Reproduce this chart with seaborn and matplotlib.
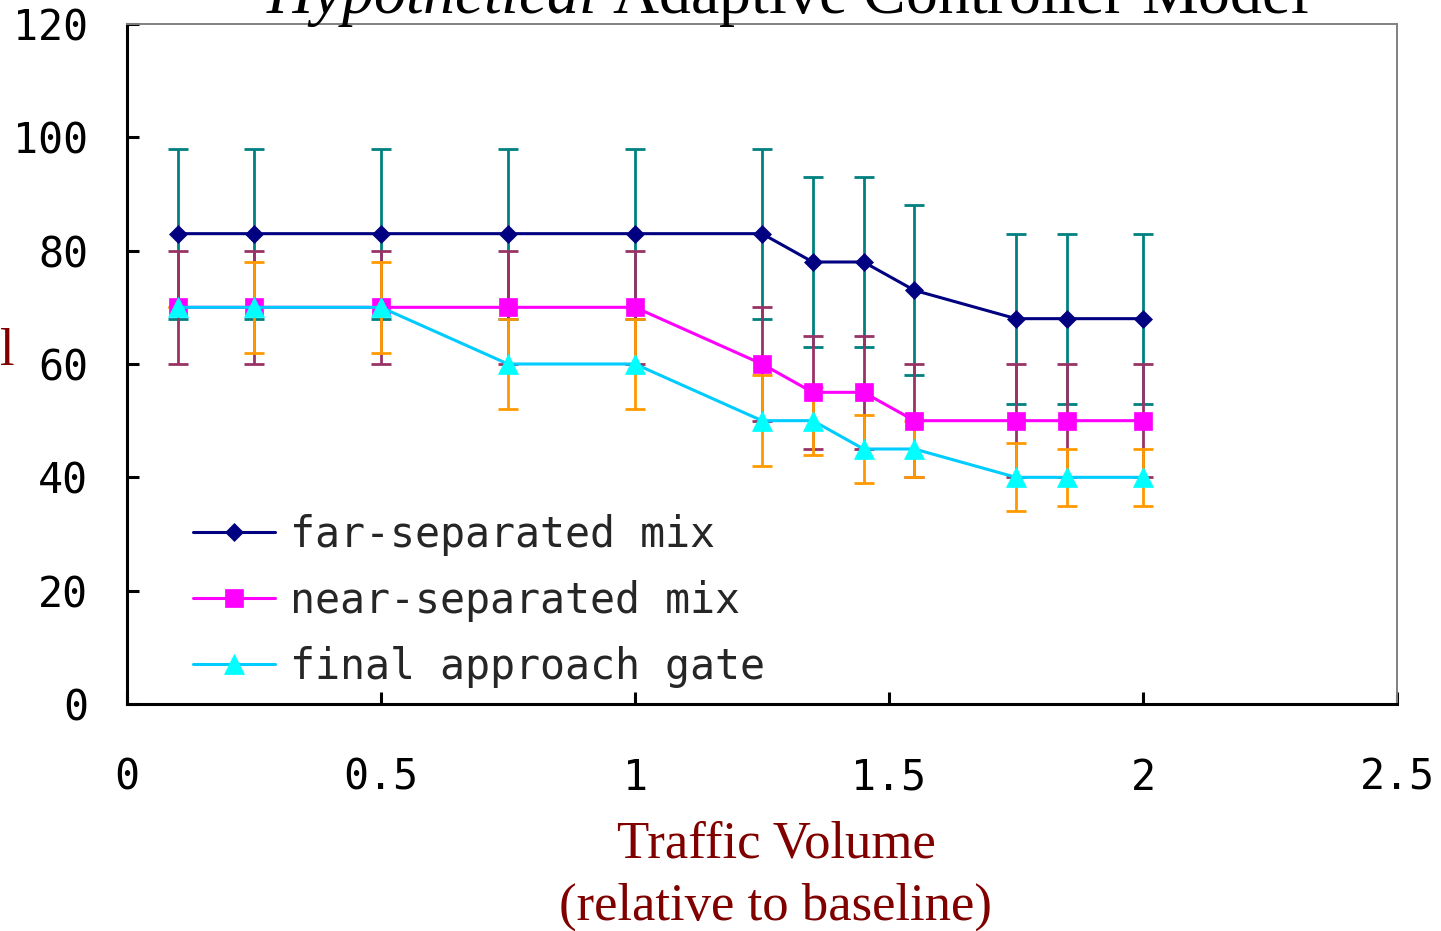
import matplotlib
matplotlib.use("Agg")
import matplotlib.pyplot as plt
import seaborn as sns
import pandas as pd
import numpy as np

# ---- data ----
traffic = [0.1, 0.25, 0.5, 0.75, 1.0, 1.25, 1.35, 1.45, 1.55, 1.75, 1.85, 2.0]
far_sep = [83, 83, 83, 83, 83, 83, 78, 78, 73, 68, 68, 68]
far_err = [15, 15, 15, 15, 15, 15, 15, 15, 15, 15, 15, 15]
near_sep = [70, 70, 70, 70, 70, 60, 55, 55, 50, 50, 50, 50]
near_err = [10, 10, 10, 10, 10, 10, 10, 10, 10, 10, 10, 10]
final_gate = [70, 70, 70, 60, 60, 50, 50, 45, 45, 40, 40, 40]
final_err = [0, 8, 8, 8, 8, 8, 6, 6, 5, 6, 5, 5]
series_names = ["far-separated mix", "near-separated mix", "final approach gate"]
x_ticks = [0, 0.5, 1, 1.5, 2, 2.5]
x_tick_labels = ["0", "0.5", "1", "1.5", "2", "2.5"]
y_ticks = [0, 20, 40, 60, 80, 100, 120]

sns.set_style("ticks")
plt.rcParams["mathtext.fontset"] = "custom"
plt.rcParams["mathtext.rm"] = "Liberation Serif"
plt.rcParams["mathtext.it"] = "Liberation Serif:italic"

fig = plt.figure(figsize=(14.41, 9.31), dpi=100)
ax = fig.add_axes([127/1441, 1-704/931, (1397-127)/1441, (704-24)/931])

vals = [far_sep, near_sep, final_gate]
errs = [far_err, near_err, final_err]
err_colors = ["#008080", "#993366", "#FF9900"]
line_colors = ["#000080", "#FF00FF", "#00CCFF"]
mark_colors = ["#000080", "#FF00FF", "#00FFFF"]
markers = ["D", "s", "^"]
msizes = [9.5, 12.5, 14]

for v, e, c in zip(vals, errs, err_colors):
    ax.errorbar(traffic, v, yerr=e, fmt="none", ecolor=c, elinewidth=2,
                capsize=7.2, capthick=2, zorder=2)

rows = []
for name, v in zip(series_names, vals):
    for xv, yv in zip(traffic, v):
        rows.append({"traffic": xv, "value": yv, "series": name})
df = pd.DataFrame(rows)

handles = []
for i, name in enumerate(series_names):
    sub = df[df["series"] == name]
    sns.lineplot(data=sub, x="traffic", y="value", ax=ax, color=line_colors[i],
                 linewidth=2.2, marker=markers[i], markersize=msizes[i],
                 markerfacecolor=mark_colors[i], markeredgecolor=mark_colors[i],
                 markeredgewidth=0.5, label=name, zorder=3, legend=False)
    handles.append(ax.lines[-1])

ax.set_xlim(0, 2.5)
ax.set_ylim(0, 120)
ax.set_xticks(x_ticks)
ax.set_xticklabels(x_tick_labels)
ax.set_yticks(y_ticks)
ax.set_xlabel("")
ax.set_ylabel("")

mono = "DejaVu Sans Mono"
ax.tick_params(axis="both", direction="in", length=8.5, width=2.2, color="black",
               labelsize=30, labelcolor="black")
ax.tick_params(axis="x", pad=38)
ax.tick_params(axis="y", pad=28)
for lab in ax.get_xticklabels() + ax.get_yticklabels():
    lab.set_fontfamily(mono)

for s in ["left", "bottom"]:
    ax.spines[s].set_color("black")
    ax.spines[s].set_linewidth(2.2)
for s in ["top", "right"]:
    ax.spines[s].set_color("#808080")
    ax.spines[s].set_linewidth(1.4)
    ax.spines[s].set_visible(True)

leg = fig.legend(handles=handles, labels=series_names, loc="upper left",
                 bbox_to_anchor=(193/1441, 1-514/931), frameon=False,
                 prop={"family": mono, "size": 30}, handlelength=1.97,
                 handletextpad=0.36, labelspacing=0.57, borderpad=0,
                 borderaxespad=0)

dark_red = "#800000"
fig.text(787/1441, 1-13/931, r"$\it{Hypothetical}$ Adaptive Controller Model",
         ha="center", va="baseline", fontsize=46, family="Liberation Serif",
         color="black")
fig.text(776/1441, 1-858/931, "Traffic Volume", ha="center", va="baseline",
         fontsize=38, family="Liberation Serif", color=dark_red)
fig.text(776/1441, 1-920/931, "(relative to baseline)", ha="center", va="baseline",
         fontsize=38, family="Liberation Serif", color=dark_red)
fig.text(0/1441, 1-365/931, "l", ha="left", va="baseline",
         fontsize=38, family="Liberation Serif", color=dark_red)

fig.savefig("out.png", dpi=100)
